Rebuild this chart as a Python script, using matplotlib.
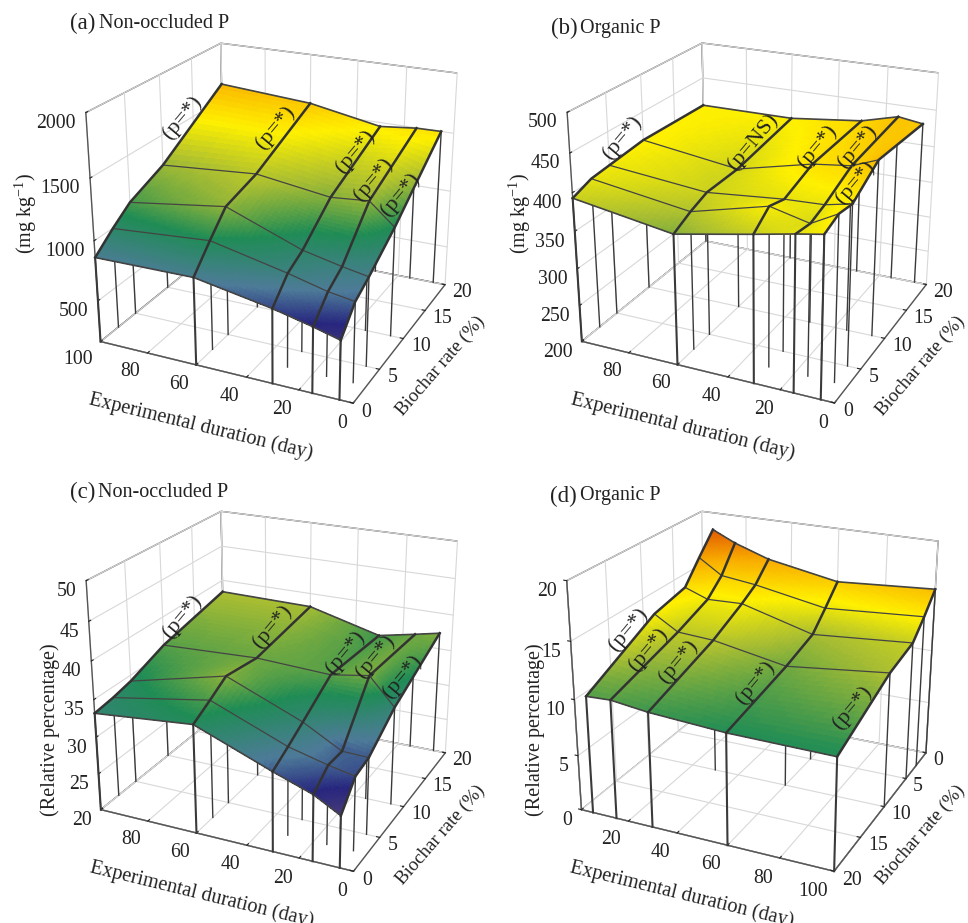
import numpy as np
import matplotlib
matplotlib.use('Agg')
import matplotlib.pyplot as plt
from matplotlib.colors import LinearSegmentedColormap, Normalize

plt.rcParams['font.family'] = 'Liberation Serif'
plt.rcParams['mathtext.fontset'] = 'custom'
plt.rcParams['mathtext.rm'] = 'Liberation Serif'
plt.rcParams['mathtext.default'] = 'rm'

W, H = 968, 923

days = [5, 15, 30, 60, 100]
rates = [0, 2.5, 5, 10, 20]

# one row per duration, one value per biochar rate
z_a = [[627, 807, 886, 1069, 1500],
       [684, 840, 925, 1246, 1497],
       [758, 920, 994, 1220, 1466],
       [871, 1056, 1228, 1307, 1579],
       [863, 997, 1115, 1246, 1638]]
z_b = [[407, 415, 411, 436, 429],
       [401, 397, 404, 423, 434],
       [391, 409, 402, 417, 421],
       [372, 384, 393, 394, 410],
       [393, 403, 406, 412, 410]]
z_c = [[26.8, 29.8, 30.3, 33.3, 37.2],
       [28.7, 30.5, 30.4, 36.9, 36.5],
       [30.5, 31.8, 33.2, 36.1, 35.5],
       [34.4, 35.8, 37.3, 36.6, 38.1],
       [33.2, 33.6, 34.2, 36.1, 38.3]]
z_d = [[18.4, 16.5, 14.5, 13.8, 10.5],
       [17.4, 15.1, 13.7, 12.5, 10.6],
       [16.3, 14.7, 13.8, 12.3, 10.2],
       [15.1, 13.5, 12.0, 11.1, 9.8],
       [15.7, 14.1, 12.7, 12.1, 9.7]]

ticks_a = [500, 1000, 1500, 2000]
ticks_b = [200, 250, 300, 350, 400, 450, 500]
ticks_c = [20, 25, 30, 35, 40, 45, 50]
ticks_d = [0, 5, 10, 15, 20]

xlabels_full = ['0', '20', '40', '60', '80', '100']
xlabels_no100 = ['0', '20', '40', '60', '80', '']
xlabels_no0 = ['', '20', '40', '60', '80', '100']

labels_p = ['(p=*)', '(p=*)', '(p=*)', '(p=*)', '(p=*)']
labels_p_b = ['(p=*)', '(p=NS)', '(p=*)', '(p=*)', '(p=*)']

# panel d only shows some of the inner drop lines
inner_drops_d = [(30, 10), (60, 10), (60, 5)]

colors = [(0.0, '#4a3577'), (0.225, '#453a78'), (0.29, '#27267f'), (0.37, '#4d7b98'),
          (0.49, '#1f8c55'), (0.60, '#a6bc33'), (0.70, '#fff000'), (0.82, '#f8a900'),
          (0.93, '#e05500'), (1.0, '#d04000')]
cmap = LinearSegmentedColormap.from_list('surface', colors)

panels = [
    dict(z=z_a, zlim=(150, 2000), zticks=ticks_a, x0=57.8, y0=494.2, flip=False, zpos='lower',
         xlabels=xlabels_full, zlabel='(mg kg$^{-1}$)', zlabel_xy=(26, 214), ylabel_xy=(441, 366),
         letter='(a)', title='Non-occluded P',
         letter_xy=(70, 23), title_xy=(99, 23), p=labels_p,
         p_xy=[(182, 118), (275, 128), (355, 152), (373, 180), (400, 195)]),
    dict(z=z_b, zlim=(200, 500), zticks=ticks_b, x0=539.1, y0=494.4, flip=False, zpos='lower',
         xlabels=xlabels_no100, zlabel='(mg kg$^{-1}$)', zlabel_xy=(520, 214), ylabel_xy=(921, 366),
         letter='(b)', title='Organic P',
         letter_xy=(551, 28), title_xy=(580, 28), p=labels_p_b,
         p_xy=[(622, 138), (753, 142), (817, 147), (857, 147), (855, 183)]),
    dict(z=z_c, zlim=(20, 50), zticks=ticks_c, x0=58.1, y0=26.1, flip=False, zpos='lower',
         xlabels=xlabels_no100, zlabel='(Relative percentage)', zlabel_xy=(50, 730), ylabel_xy=(441, 835),
         letter='(c)', title='Non-occluded P',
         letter_xy=(70, 492), title_xy=(98, 492), p=labels_p,
         p_xy=[(182, 617), (272, 627), (345, 653), (375, 657), (402, 677)]),
    dict(z=z_d, zlim=(0, 20), zticks=ticks_d, x0=538.7, y0=26.1, flip=True, zpos='upper',
         xlabels=xlabels_no0, zlabel='(Relative percentage)', zlabel_xy=(535, 730), ylabel_xy=(921, 835),
         letter='(d)', title='Organic P',
         letter_xy=(550, 496), title_xy=(580, 496), p=labels_p,
         p_xy=[(628, 630), (648, 650), (678, 662), (755, 683), (852, 708)]),
]

S = 434.0
INK = '#222222'


def fine_grid(vals):
    # finer mesh for the colour gradient only, the lines use the values themselves
    vals = np.array(vals, float)
    t = np.linspace(0, len(vals) - 1, (len(vals) - 1) * 16 + 1)
    return np.interp(t, np.arange(len(vals)), vals), t


fig = plt.figure(figsize=(W / 100, H / 100), dpi=100)

for pan in panels:
    ax = fig.add_axes([pan['x0'] / W, pan['y0'] / H, S / W, S / H], projection='3d')
    ax.patch.set_alpha(0)
    ax.computed_zorder = False
    ax.view_init(elev=22.69, azim=-64.91)
    ax.set_proj_type('persp', focal_length=0.524)
    ax.set_box_aspect((1.131, 1.116, 1.0))

    if pan['flip']:
        ax.set_xlim(0, 100)
        ax.set_ylim(20, 0)
    else:
        ax.set_xlim(100, 0)
        ax.set_ylim(0, 20)
    ax.set_xticks([0, 20, 40, 60, 80, 100], pan['xlabels'])
    ax.set_yticks([0, 5, 10, 15, 20])
    ax.set_zlim(*pan['zlim'])
    ax.set_zticks(pan['zticks'])
    ax.zaxis.set_ticks_position(pan['zpos'])

    for axis in (ax.xaxis, ax.yaxis, ax.zaxis):
        axis.set_pane_color((1, 1, 1, 1))
        axis.pane.set_edgecolor('#555555')
        axis.pane.set_linewidth(1.0)
        axis.line.set_color('#555555')
        axis.line.set_linewidth(1.0)
        axis._axinfo['grid']['color'] = '#d8d8d8'
        axis._axinfo['grid']['linewidth'] = 0.8
        axis._axinfo['tick']['inward_factor'] = 0.0
        axis._axinfo['tick']['outward_factor'] = 0.15
        axis._axinfo['tick']['color'] = '#555555'
    ax.xaxis.set_tick_params(labelsize=14.2, pad=1, colors=INK)
    ax.yaxis.set_tick_params(labelsize=14.2, pad=-3, colors=INK)
    ax.zaxis.set_tick_params(labelsize=14.2, pad=-4, colors=INK)
    for lab in ax.get_xticklabels():
        lab.set_ha('right')
        lab.set_va('center')
    for lab in ax.get_yticklabels():
        lab.set_ha('left')
        lab.set_va('center')
    for lab in ax.get_zticklabels():
        lab.set_ha('right')
        lab.set_va('top')

    ax.set_xlabel('Experimental duration (day)', fontsize=14.6, labelpad=4.5, color=INK)

    z = np.array(pan['z'], float)
    zmin = pan['zlim'][0]
    norm = Normalize(*pan['zlim'])

    # drop lines down to the floor
    for i, d in enumerate(days):
        for j, r in enumerate(rates):
            front = j == (4 if pan['flip'] else 0)
            if pan['flip'] and not front and d != 100 and (d, r) not in inner_drops_d:
                continue
            ax.plot([d, d], [r, r], [zmin, z[i][j]], color='#3a3a3a',
                    lw=1.5 if front else 1.0, zorder=1)

    # colour surface
    xf, ti = fine_grid(days)
    yf, tj = fine_grid(rates)
    zf = np.array([[0.0] * len(yf)] * len(xf))
    for j in range(len(rates)):
        zf[:, j * 16] = np.interp(ti, np.arange(len(days)), z[:, j])
    for i in range(len(xf)):
        zf[i] = np.interp(tj, np.arange(len(rates)), zf[i, ::16][:len(rates)])
    X, Y = np.meshgrid(xf, yf, indexing='ij')
    ax.plot_surface(X, Y, zf, rstride=1, cstride=1, facecolors=cmap(norm(zf)),
                    shade=False, linewidth=0, antialiased=False, zorder=2)

    # net on top of the surface
    for j, r in enumerate(rates):
        edge = j in (0, 4)
        ax.plot(days, [r] * len(days), z[:, j], color='#444444',
                lw=1.2 if edge else 0.9, zorder=3)
    for i, d in enumerate(days):
        ax.plot([d] * len(rates), rates, z[i], color='#333333', lw=1.8, zorder=3)

    for txt, (px, py) in zip(pan['p'], pan['p_xy']):
        fig.text(px / W, 1 - py / H, txt, fontsize=16, rotation=50, rotation_mode='anchor',
                 ha='center', va='center', color=INK)

    fig.text(pan['ylabel_xy'][0] / W, 1 - pan['ylabel_xy'][1] / H, 'Biochar rate (%)',
             fontsize=13.6, rotation=49, rotation_mode='anchor', ha='center', va='center', color=INK)
    fig.text(pan['zlabel_xy'][0] / W, 1 - pan['zlabel_xy'][1] / H, pan['zlabel'],
             fontsize=14.5, rotation=90, ha='center', va='center', color=INK)

    fig.text(pan['letter_xy'][0] / W, 1 - pan['letter_xy'][1] / H, pan['letter'],
             fontsize=16.5, va='center', color=INK)
    fig.text(pan['title_xy'][0] / W, 1 - pan['title_xy'][1] / H, pan['title'],
             fontsize=14.5, va='center', color=INK)

fig.savefig('out.png', dpi=100)
